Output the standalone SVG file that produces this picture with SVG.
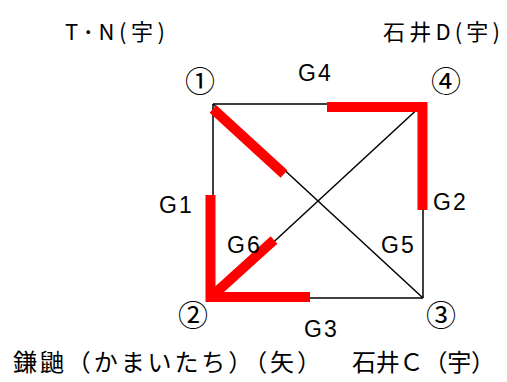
<svg xmlns="http://www.w3.org/2000/svg" width="507" height="382" viewBox="0 0 507 382">
<style>
.edge{stroke:#000;stroke-width:1.5;fill:none}
.hl{stroke:#ff0000;stroke-width:10;fill:none;stroke-linecap:butt}
.t{font-family:"Liberation Sans","Noto Sans CJK JP",sans-serif;font-size:23px;letter-spacing:2px;fill:#000}
.c{font-family:"Noto Sans CJK JP",sans-serif;font-size:30px;fill:#000;text-anchor:middle}
.j{font-family:"Noto Sans CJK JP",sans-serif;font-size:22px;fill:#000}
.b{font-family:"Noto Sans CJK JP",sans-serif;font-size:24px;fill:#000}
</style>
<rect width="507" height="382" fill="#fff"/>
<g id="connectors">
<line class="edge" x1="213" y1="104" x2="423" y2="104"/>
<line class="edge" x1="423" y1="104" x2="423" y2="298"/>
<line class="edge" x1="213" y1="298" x2="423" y2="298"/>
<line class="edge" x1="213" y1="104" x2="213" y2="298"/>
<line class="edge" x1="213" y1="104" x2="423" y2="298"/>
<line class="edge" x1="423" y1="104" x2="213" y2="298"/>
</g>
<g id="highlight">
<line class="hl" x1="327" y1="107" x2="427" y2="107"/>
<line class="hl" x1="422.5" y1="102" x2="422.5" y2="210"/>
<line class="hl" x1="213" y1="109" x2="284" y2="174"/>
<line class="hl" x1="210.5" y1="195" x2="210.5" y2="302"/>
<line class="hl" x1="206" y1="297" x2="310" y2="297"/>
<line class="hl" x1="211" y1="297" x2="274" y2="240"/>
</g>
<g id="n1"><text class="c" x="200" y="92">①</text></g>
<g id="n2"><text class="c" x="193" y="326">②</text></g>
<g id="n3"><text class="c" x="441" y="326">③</text></g>
<g id="n4"><text class="c" x="446" y="92">④</text></g>
<g id="g-labels">
<text class="t" x="298" y="81">G4</text>
<text class="t" x="159" y="213">G1</text>
<text class="t" x="433" y="210">G2</text>
<text class="t" x="227" y="253">G6</text>
<text class="t" x="381" y="253">G5</text>
<text class="t" x="304" y="337">G3</text>
</g>
<g id="owners">
<text class="j" x="65" y="40" textLength="100">T･N(宇)</text>
<text class="j" x="383" y="40" textLength="117">石井D(宇)</text>
<text class="b" x="13" y="371" textLength="308">鎌鼬（かまいたち）（矢）</text>
<text class="b" x="352" y="371" textLength="143">石井Ｃ（宇）</text>
</g>
</svg>
